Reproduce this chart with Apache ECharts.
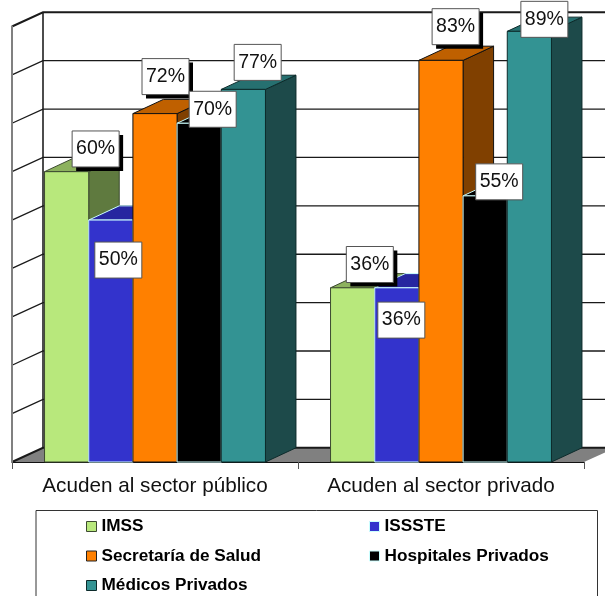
<!DOCTYPE html>
<html><head><meta charset="utf-8">
<style>html,body{margin:0;padding:0;background:#fff}#c{width:605px;height:596px}</style>
<script src="https://cdn.jsdelivr.net/npm/echarts@6/dist/echarts.min.js"></script>
</head><body><div id="c"></div>
<script>
const categories = ['Acuden al sector público', 'Acuden al sector privado'];
const imss = [60, 36];
const issste = [50, 36];
const salud = [72, 83];
const hospitales = [70, 55];
const medicos = [77, 89];
const tickValues = [0, 10, 20, 30, 40, 50, 60, 70, 80, 90];

const FONT = '"Liberation Sans", Arial, sans-serif';
const DX = 30.5, DY = -14.2, BAR_FRAC = 0.1545;

const seriesDefs = [
  {name:'IMSS', values:imss, front:'#B8E87C', top:'#8DB25E', side:'#5F7A3F', edge:'#3c4a30', shadow:true,
   off:[[29,-22.7],[17.2,-23.3]], leg:[86,518]},
  {name:'ISSSTE', values:issste, front:'#3333CC', top:'#2626A0', side:'#1F1F80', edge:'#CCFFFF', shadow:false,
   off:[[7.5,40],[4.5,32.3]], leg:[369,518]},
  {name:'Secretaría de Salud', values:salud, front:'#FF8000', top:'#BF6000', side:'#804000', edge:'#111', shadow:true,
   off:[[10.5,-37],[14.6,-33.7]], leg:[86,547.5]},
  {name:'Hospitales Privados', values:hospitales, front:'#000000', top:'#000000', side:'#000000', edge:'#CCFFFF', shadow:false,
   off:[[13.5,-14],[14,-14]], leg:[369,547.5]},
  {name:'Médicos Privados', values:medicos, front:'#339393', top:'#267070', side:'#1D4A4A', edge:'#0c2a2a', shadow:false,
   off:[[14.3,-27],[15,-12]], leg:[86,577]}
];

function wallItem(params, api) {
  const v = api.value(0);
  const cs = params.coordSys;
  const y = api.coord([0, v])[1];
  const x0 = cs.x, x1 = cs.x + cs.width;
  const kids = [];
  if (v === 0) {
    kids.push({type:'polygon', shape:{points:[[x0,y],[x0+DX+.5,y+DY],[x1+DX+.5,y+DY],[x1,y]]},
      style:{fill:'#808080', stroke:null}});
    const topY = api.coord([0, 90])[1];
    kids.push({type:'line', shape:{x1:x0+DX+.5,y1:topY+DY,x2:x0+DX+.5,y2:y+DY}, style:{stroke:'#111', lineWidth:1.5}});
  }
  const w = (v === 0 || v === 90) ? 2 : 1.3;
  kids.push({type:'polyline', shape:{points:[[x0,y],[x0+DX+.5,y+DY],[x1+DX+.5,y+DY]]},
    style:{fill:null, stroke:'#1a1a1a', lineWidth:w}});
  return {type:'group', children:kids};
}

function barRenderer(idx) {
  const def = seriesDefs[idx];
  return function (params, api) {
    const i = api.value(0), v = api.value(1);
    const c = api.coord([i, v]), b = api.coord([i, 0]);
    const band = api.size([1, 0])[0];
    const w = band * BAR_FRAC;
    const left = c[0] + (idx - 2.5) * w, right = left + w;
    const top = c[1], base = b[1];
    const line = {stroke:def.edge, lineWidth:1, lineJoin:'round'};
    const kids = [
      {type:'polygon', shape:{points:[[right,top],[right+DX,top+DY],[right+DX,base+DY],[right,base]]},
        style:Object.assign({fill:def.side}, line)},
      {type:'polygon', shape:{points:[[left,top],[left+DX,top+DY],[right+DX,top+DY],[right,top]]},
        style:Object.assign({fill:def.top}, line)},
      {type:'rect', shape:{x:left,y:top,width:w,height:base-top},
        style:Object.assign({fill:def.front}, line)}
    ];
    const off = def.off[i];
    const cx = left + w/2 + off[0], cy = top + off[1];
    const bw = 47, bh = 36;
    if (def.shadow) {
      kids.push({type:'rect', z2:100, shape:{x:cx-bw/2+4,y:cy-bh/2+4,width:bw,height:bh}, style:{fill:'#000'}});
    }
    kids.push({type:'rect', z2:101, shape:{x:cx-bw/2,y:cy-bh/2,width:bw,height:bh},
      style:{fill:'#fff', stroke:'#555', lineWidth:1}});
    kids.push({type:'text', z2:102, style:{text:v+'%', x:cx, y:cy, align:'center', verticalAlign:'middle',
      textAlign:'center', textVerticalAlign:'middle', font:'19.5px '+FONT, fill:'#111'}});
    return {type:'group', children:kids};
  };
}

const series = [{
  type:'custom', name:'_walls', silent:true, clip:false, z:1,
  coordinateSystem:'cartesian2d', data:tickValues.map(v=>[v]),
  encode:{y:0}, renderItem:wallItem, animation:false
}].concat(seriesDefs.map((d, k) => ({
  type:'custom', name:d.name, coordinateSystem:'cartesian2d', clip:false, z:2, animation:false,
  itemStyle:{color:d.front},
  encode:{x:0,y:1},
  data:d.values.map((v,i)=>[i,v]),
  renderItem:barRenderer(k)
})));

const chart = echarts.init(document.getElementById('c'), null, {renderer:'canvas', width:605, height:596});
chart.setOption({
  animation:false,
  backgroundColor:'#fff',
  grid:{left:12, right:21, top:26.5, bottom:134},
  xAxis:{type:'category', data:categories, boundaryGap:true,
    axisLine:{show:true, lineStyle:{color:'#111', width:1}},
    axisTick:{show:true, length:7, lineStyle:{color:'#555', width:1}},
    axisLabel:{interval:0, margin:14, fontFamily:FONT, fontSize:20.7, color:'#111'}},
  yAxis:{type:'value', min:0, max:90, interval:10, z:3,
    axisLine:{show:true, lineStyle:{color:'#808080', width:2}},
    axisTick:{show:false}, axisLabel:{show:false}, splitLine:{show:false}},
  legend:seriesDefs.map(d=>({
    data:[{name:d.name, icon:'rect', itemStyle:{color:d.front, borderColor:d.edge==='#111'?'#222':d.edge, borderWidth:1}}],
    left:d.leg[0], top:d.leg[1], padding:0, itemWidth:10, itemHeight:10, itemGap:4,
    selectedMode:false,
    textStyle:{fontFamily:FONT, fontWeight:'bold', fontSize:17.2, color:'#000'}
  })),
  graphic:[{type:'rect', silent:true, z:0, shape:{x:36,y:510.5,width:561.5,height:100},
    style:{fill:'#fff', stroke:'#333', lineWidth:1}}],
  series:series
});
</script></body></html>
